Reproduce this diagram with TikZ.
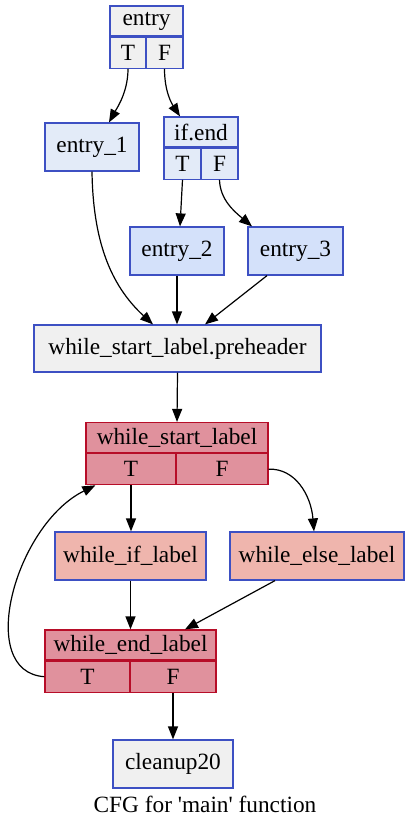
\documentclass[tikz,border=0pt]{standalone}
\usepackage{fontspec}
\setmainfont{Liberation Serif}
\usepackage{xcolor}
\usetikzlibrary{arrows.meta,positioning,calc}
\definecolor{cblue}{HTML}{3D50C3}
\definecolor{cred}{HTML}{B70D28}
\definecolor{cgray}{HTML}{F0F0F0}
\definecolor{cpale}{HTML}{E3EBF8}
\definecolor{clight}{HTML}{D4E1FA}
\definecolor{chot}{HTML}{E0919D}
\definecolor{cwarm}{HTML}{EFB5AD}

\begin{document}
\begin{tikzpicture}[x=1pt, y=-1pt,
  every node/.style={font=\fontsize{23.3}{28}\selectfont},
  blk/.style={draw=cblue, line width=1.2pt, minimum height=48pt, inner sep=0pt},
  hdr/.style={draw, line width=1.2pt, minimum height=30pt, inner sep=0pt},
  cell/.style={draw, line width=1.2pt, minimum height=31pt, inner sep=0pt},
  ar/.style={-{Triangle[length=13pt,width=10pt]}, line width=1.2pt}]
  \useasboundingbox (0,0) rectangle (410,825);

  % top part
  \node[hdr, draw=cblue, fill=cgray, minimum width=73pt] (eH) at (146.5,21) {entry};
  \node[cell, draw=cblue, fill=cgray, minimum width=36pt, anchor=north west] (eT) at (eH.south west) {T};
  \node[cell, draw=cblue, fill=cgray, minimum width=37pt, anchor=north east] (eF) at (eH.south east) {F};
  \node[blk, fill=cpale, minimum width=94pt] (e1) at (92,147) {entry\_1};
  \node[hdr, draw=cblue, fill=cpale, minimum width=74pt] (ifH) at (201,132) {if.end};
  \node[cell, draw=cblue, fill=cpale, minimum width=37pt, anchor=north west] (ifT) at (ifH.south west) {T};
  \node[cell, draw=cblue, fill=cpale, minimum width=37pt, anchor=north east] (ifF) at (ifH.south east) {F};
  \node[blk, fill=clight, minimum width=94pt] (e2) at (177,251) {entry\_2};
  \node[blk, fill=clight, minimum width=95pt] (e3) at (295.5,251) {entry\_3};
  \node[blk, fill=cgray, minimum width=287pt, minimum height=47pt] (pre) at (177.5,348.5)
    {while\_start\_label.preheader};

  % loop
  \node[hdr, draw=cred, fill=chot, minimum width=182pt] (wsH) at (177,437.5) {while\_start\_label};
  \node[cell, draw=cred, fill=chot, minimum width=90pt, anchor=north west] (wsT) at (wsH.south west) {T};
  \node[cell, draw=cred, fill=chot, minimum width=92pt, anchor=north east] (wsF) at (wsH.south east) {F};
  \node[blk, fill=cwarm, minimum width=151pt] (wi) at (130.5,556) {while\_if\_label};
  \node[blk, fill=cwarm, minimum width=174pt] (we) at (317,556) {while\_else\_label};
  \node[hdr, draw=cred, fill=chot, minimum width=171pt] (wdH) at (130.5,645) {while\_end\_label};
  \node[cell, draw=cred, fill=chot, minimum width=85pt, anchor=north west] (wdT) at (wdH.south west) {T};
  \node[cell, draw=cred, fill=chot, minimum width=86pt, anchor=north east] (wdF) at (wdH.south east) {F};
  \node[blk, fill=cgray, minimum width=120pt] (cl) at (173,764) {cleanup20};
  \node (cap) at (205,804) {CFG for \textquotesingle main\textquotesingle\ function};

  \draw[ar] (eT.south) .. controls (128,92) and (117,108) .. ($(e1.north)+(17,0)$);
  \draw[ar] (eF.south) .. controls (164.5,92) and (172,104) .. ($(ifH.north)+(-21,0)$);
  \draw[ar] (ifT.south) -- ($(e2.north)+(3,0)$);
  \draw[ar] (ifF.south) .. controls (220,200) and (235,212) .. ($(e3.north)+(-43.5,0)$);
  \draw[ar] (e1.south) .. controls (93,240) and (110,285) .. ($(pre.north)+(-24.5,0)$);
  \draw[ar] (e2.south) -- (e2.south |- pre.north);
  \draw[ar] ($(e3.south)+(-28.5,0)$) -- ($(pre.north)+(27.5,0)$);
  \draw[ar] (pre.south) -- (wsH.north);
  \draw[ar] (wsT.south) -- (wsT.south |- wi.north);
  \draw[ar] (wsF.east) .. controls (295,468) and (311,495) .. ($(we.north)+(-3,0)$);
  \draw[ar] (wi.south) -- (wi.south |- wdH.north);
  \draw[ar] ($(we.south)+(-42,0)$) -- ($(wdH.north)+(54.5,0)$);
  \draw[ar] (wdT.west) .. controls (-25,672) and (15,525) .. ($(wsT.south west)+(10,0)$);
  \draw[ar] (wdF.south) -- (wdF.south |- cl.north);
\end{tikzpicture}
\end{document}
